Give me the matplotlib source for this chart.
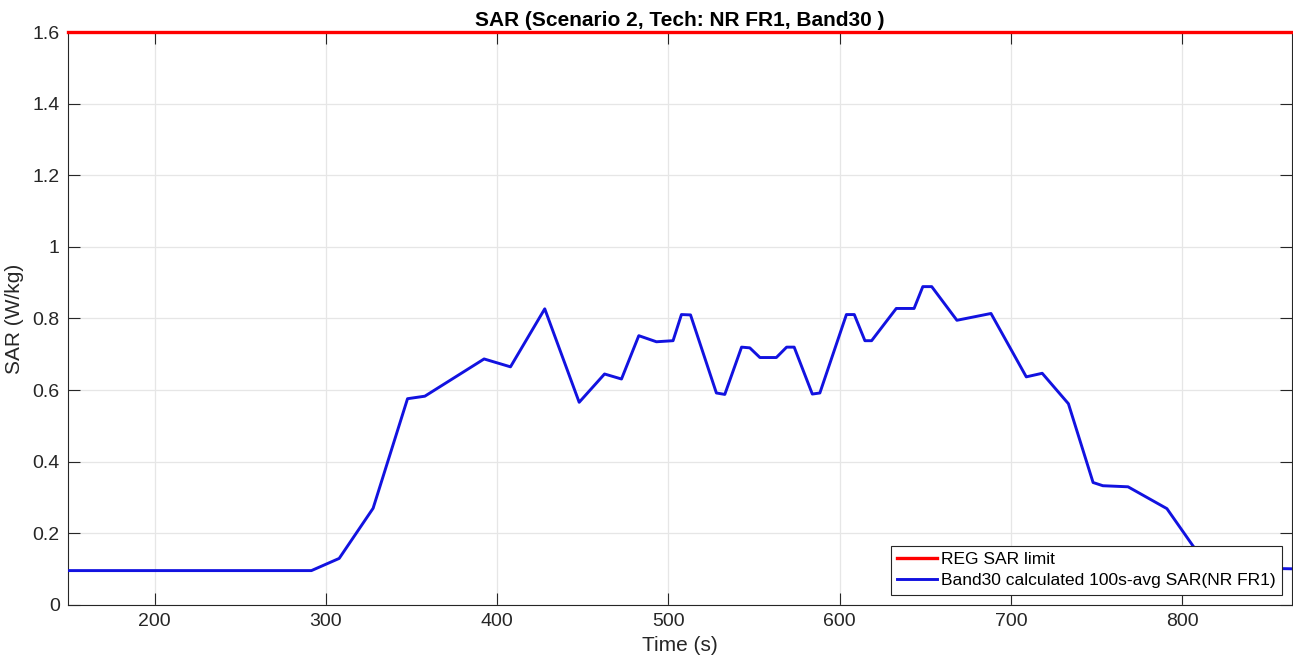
import numpy as np
import matplotlib.pyplot as plt
from matplotlib.ticker import FormatStrFormatter

plt.rcParams['font.family'] = ['Liberation Sans', 'DejaVu Sans']

# time stamps (s) and the 100s-averaged SAR (W/kg)
time_s = [149.5, 291.6, 307.8, 327.6, 347.7, 357.8, 392.4, 407.8, 427.8, 447.9,
          462.7, 472.6, 482.7, 493.0, 502.7, 507.6, 512.9, 528.0, 532.9, 542.7,
          547.5, 553.4, 563.0, 569.0, 573.4, 584.0, 588.4, 603.9, 608.5, 614.7,
          618.6, 633.0, 643.4, 648.5, 653.7, 668.4, 688.3, 708.9, 718.2, 733.5,
          747.9, 753.6, 768.3, 791.0, 806.5, 820.0, 864.0]
sar = [0.096, 0.096, 0.130, 0.270, 0.576, 0.583, 0.687, 0.665, 0.827, 0.566,
       0.645, 0.631, 0.752, 0.735, 0.738, 0.811, 0.810, 0.592, 0.588, 0.720,
       0.718, 0.691, 0.691, 0.720, 0.720, 0.589, 0.592, 0.811, 0.811, 0.738,
       0.738, 0.828, 0.828, 0.889, 0.889, 0.795, 0.814, 0.637, 0.647, 0.562,
       0.342, 0.333, 0.330, 0.269, 0.163, 0.105, 0.101]
sar_limit = 1.6
xlim = (149.5, 864)

fig = plt.figure(figsize=(12.93, 6.67), dpi=100)
ax = fig.add_axes([0.0526, 0.093, 0.9466, 0.859])

ax.plot(xlim, [sar_limit, sar_limit], color='#ff0000', lw=2.4,
        label='REG SAR limit', clip_on=False, zorder=5)
ax.plot(time_s, sar, color='#1212e0', lw=2.1,
        label='Band30 calculated 100s-avg SAR(NR FR1)', zorder=4)

ax.set_xlim(*xlim)
ax.set_ylim(0, 1.6)
ax.set_xticks(np.arange(200, 801, 100))
ax.set_yticks(np.arange(0, 1.61, 0.2))
ax.yaxis.set_major_formatter(FormatStrFormatter('%g'))

ax.grid(True, color='#e6e6e6', lw=0.9)
ax.set_axisbelow(True)
for s in ax.spines.values():
    s.set_color('#262626')
    s.set_linewidth(0.8)
ax.tick_params(direction='in', length=8.5, width=0.8, color='#262626',
               labelcolor='#262626', labelsize=14, top=True, right=True, pad=6)

ax.set_title('SAR (Scenario 2, Tech: NR FR1, Band30 )', fontsize=15,
             fontweight='bold', pad=4)
ax.set_xlabel('Time (s)', fontsize=15, color='#262626', labelpad=4)
ax.set_ylabel('SAR (W/kg)', fontsize=15, color='#262626', labelpad=6)

leg = ax.legend(loc='lower right', fontsize=12.5, fancybox=False,
                edgecolor='#262626', framealpha=1, borderpad=0.35,
                labelspacing=0.35, handlelength=2.3, handletextpad=0.25,
                borderaxespad=0.6)
leg.get_frame().set_linewidth(0.8)

fig.savefig('out.png', dpi=100)
